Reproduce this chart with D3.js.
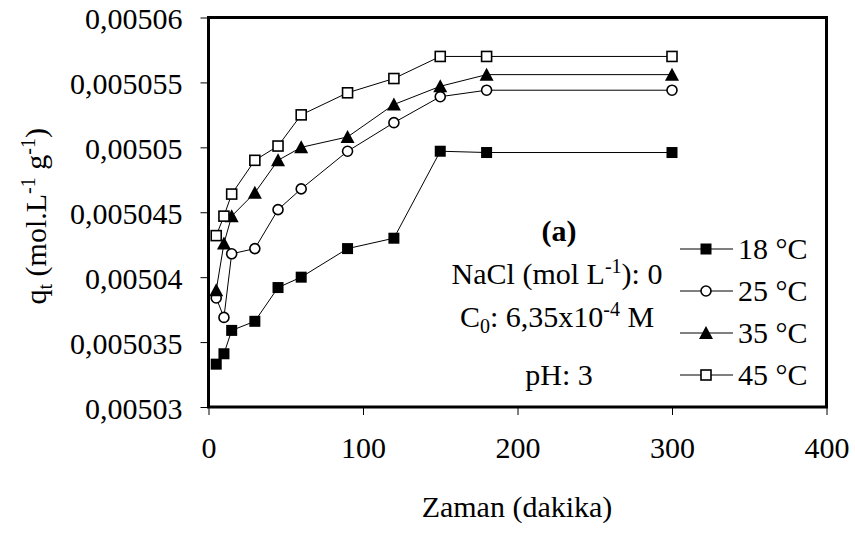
<!DOCTYPE html>
<html>
<head>
<meta charset="utf-8">
<script src="https://cdn.jsdelivr.net/npm/d3@7/dist/d3.min.js"></script>
<style>
  html, body { margin: 0; padding: 0; background: #fff; }
  svg { display: block; }
  text { font-family: "Liberation Serif", "Times New Roman", serif; fill: #000; }
</style>
</head>
<body>
<svg id="chart" width="855" height="539"></svg>
<script>
// Adsorption kinetics: q_t versus contact time at four temperatures
const times = [5, 10, 15, 30, 45, 60, 90, 120, 150, 180, 300];
const q18 = [0.0050333, 0.0050341, 0.0050359, 0.0050366, 0.0050392, 0.0050400, 0.0050422, 0.0050430, 0.0050497, 0.0050496, 0.0050496];
const q25 = [0.0050384, 0.0050369, 0.0050418, 0.0050422, 0.0050452, 0.0050468, 0.0050497, 0.0050519, 0.0050539, 0.0050544, 0.0050544];
const q35 = [0.0050390, 0.0050426, 0.0050447, 0.0050465, 0.0050490, 0.0050500, 0.0050508, 0.0050533, 0.0050547, 0.0050556, 0.0050556];
const q45 = [0.0050432, 0.0050447, 0.0050464, 0.0050490, 0.0050501, 0.0050525, 0.0050542, 0.0050553, 0.0050570, 0.0050570, 0.0050570];
const seriesNames = ["18 °C", "25 °C", "35 °C", "45 °C"];
const seriesMarkers = ["filledSquare", "openCircle", "filledTriangle", "openSquare"];
const xTicks = [0, 100, 200, 300, 400];
const yTicks = [0.00503, 0.005035, 0.00504, 0.005045, 0.00505, 0.005055, 0.00506];
const yTickLabels = ["0,00503", "0,005035", "0,00504", "0,005045", "0,00505", "0,005055", "0,00506"];

const series = [q18, q25, q35, q45].map((vals, i) => ({
  name: seriesNames[i],
  marker: seriesMarkers[i],
  points: times.map((t, j) => ({ t, q: vals[j] }))
}));

const FS = 30;      // main font size
const FS_SM = 20;   // sub/superscript size

const svg = d3.select("#chart");
const plot = { left: 208.5, right: 826.5, top: 17.5, bottom: 407 };

const x = d3.scaleLinear().domain([0, 400]).range([plot.left, plot.right]);
const y = d3.scaleLinear().domain([0.00503, 0.00506]).range([plot.bottom, plot.top]);

// Axes with outward ticks
const yAxis = d3.axisLeft(y).tickValues(yTicks).tickSize(8).tickPadding(18)
  .tickFormat((d, i) => yTickLabels[i]);
const xAxis = d3.axisBottom(x).tickValues(xTicks).tickSize(8).tickPadding(22)
  .tickFormat(d3.format("d"));

const gy = svg.append("g").attr("transform", `translate(${plot.left},0)`).call(yAxis);
const gx = svg.append("g").attr("transform", `translate(0,${plot.bottom})`).call(xAxis);
[gy, gx].forEach(g => {
  g.select(".domain").remove();
  g.selectAll(".tick line").attr("stroke", "#000").attr("stroke-width", 1);
  g.selectAll(".tick text").attr("font-family", "Liberation Serif").attr("font-size", FS).attr("fill", "#000");
});
gy.selectAll(".tick text").attr("dy", "0.38em");

// Series lines
const line = d3.line().x(d => x(d.t)).y(d => y(d.q));
svg.append("g").selectAll("path").data(series).join("path")
  .attr("d", d => line(d.points))
  .attr("fill", "none").attr("stroke", "#000").attr("stroke-width", 1);

// Marker drawing
function drawMarker(g, type, cx, cy) {
  if (type === "filledSquare") {
    g.append("rect").attr("x", cx - 5.5).attr("y", cy - 5.5).attr("width", 11).attr("height", 11)
      .attr("fill", "#000");
  } else if (type === "openSquare") {
    g.append("rect").attr("x", cx - 5).attr("y", cy - 5).attr("width", 10).attr("height", 10)
      .attr("fill", "#fff").attr("stroke", "#000").attr("stroke-width", 1.6);
  } else if (type === "openCircle") {
    g.append("circle").attr("cx", cx).attr("cy", cy).attr("r", 5)
      .attr("fill", "#fff").attr("stroke", "#000").attr("stroke-width", 1.6);
  } else if (type === "filledTriangle") {
    g.append("path").attr("d", `M${cx},${cy - 7}L${cx + 7},${cy + 6}L${cx - 7},${cy + 6}Z`)
      .attr("fill", "#000");
  }
}

const markers = svg.append("g");
series.forEach(s => {
  s.points.forEach(p => drawMarker(markers, s.marker, x(p.t), y(p.q)));
});

// Plot frame
svg.append("rect")
  .attr("x", plot.left).attr("y", plot.top)
  .attr("width", plot.right - plot.left).attr("height", plot.bottom - plot.top)
  .attr("fill", "none").attr("stroke", "#000").attr("stroke-width", 3);

// Legend
const legY0 = 249, legStep = 42;
const leg = svg.append("g");
series.forEach((s, i) => {
  const ly = legY0 + i * legStep;
  leg.append("line").attr("x1", 680).attr("x2", 733).attr("y1", ly).attr("y2", ly)
    .attr("stroke", "#000").attr("stroke-width", 1);
  drawMarker(leg, s.marker, 706, ly);
  leg.append("text").attr("x", 738).attr("y", ly + 10).attr("font-size", FS).text(s.name);
});

// Annotation block
const ann = svg.append("g").attr("text-anchor", "middle");
ann.append("text").attr("x", 559).attr("y", 241).attr("font-size", FS).attr("font-weight", "bold").text("(a)");
const t1 = ann.append("text").attr("x", 557).attr("y", 284).attr("font-size", FS);
t1.append("tspan").text("NaCl (mol L");
t1.append("tspan").attr("dy", -11).attr("font-size", FS_SM).text("-1");
t1.append("tspan").attr("dy", 11).text("): 0");
const t2 = ann.append("text").attr("x", 557).attr("y", 327).attr("font-size", FS);
t2.append("tspan").text("C");
t2.append("tspan").attr("dy", 6).attr("font-size", FS_SM).text("0");
t2.append("tspan").attr("dy", -6).text(": 6,35x10");
t2.append("tspan").attr("dy", -11).attr("font-size", FS_SM).text("-4");
t2.append("tspan").attr("dy", 11).text(" M");
ann.append("text").attr("x", 559).attr("y", 385).attr("font-size", FS).text("pH: 3");

// Axis titles
svg.append("text").attr("x", 517).attr("y", 517).attr("text-anchor", "middle")
  .attr("font-size", FS).text("Zaman (dakika)");

const yt = svg.append("text")
  .attr("transform", `translate(46,${(plot.top + plot.bottom) / 2 + 4}) rotate(-90)`)
  .attr("text-anchor", "middle").attr("font-size", FS);
yt.append("tspan").text("q");
yt.append("tspan").attr("dy", 6).attr("font-size", FS_SM).text("t");
yt.append("tspan").attr("dy", -6).text(" (mol.L");
yt.append("tspan").attr("dy", -11).attr("font-size", FS_SM).text("-1");
yt.append("tspan").attr("dy", 11).text("  g");
yt.append("tspan").attr("dy", -11).attr("font-size", FS_SM).text("-1");
yt.append("tspan").attr("dy", 11).text(")");
</script>
</body>
</html>
